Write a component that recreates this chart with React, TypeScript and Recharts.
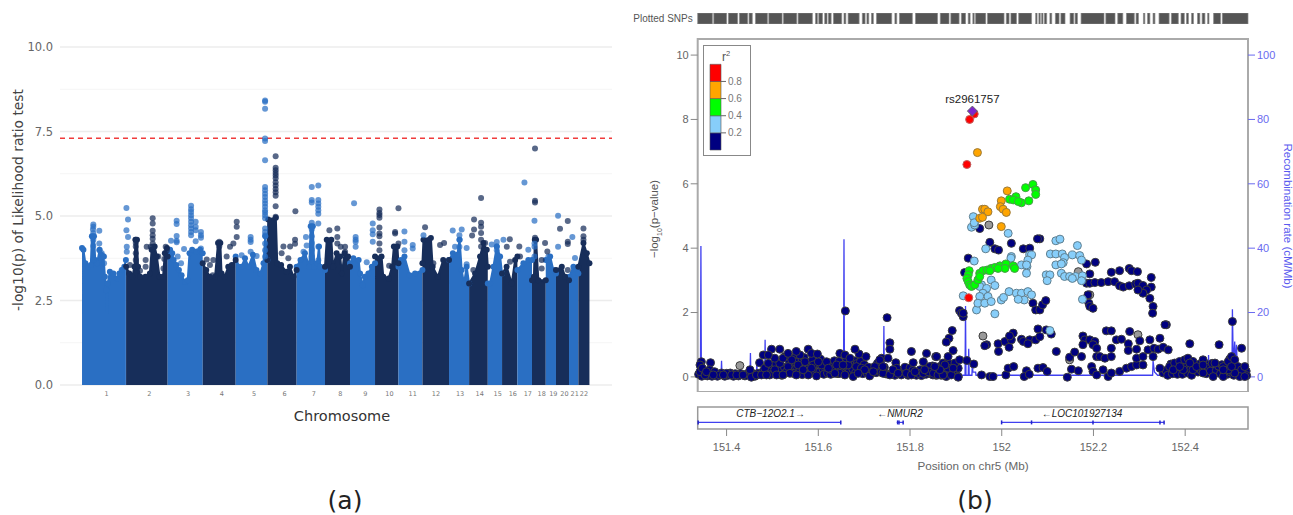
import React from 'react'
import {
  Area,
  Bar,
  BarChart,
  CartesianGrid,
  ComposedChart,
  LabelList,
  Line,
  ReferenceArea,
  ReferenceLine,
  Scatter,
  XAxis,
  YAxis,
} from 'recharts'

// ---------- panel (a): Manhattan plot, x is cumulative genome position in Mb ----------

type Pair = [number, number]

const chromLabels = ['1', '2', '3', '4', '5', '6', '7', '8', '9', '10', '11', '12', '13', '14', '15', '16', '17', '18', '19', '20', '21', '22']
const chromLabelPos = [140, 382, 602, 793, 976, 1150, 1315, 1466, 1608, 1745, 1877, 2009, 2146, 2257, 2359, 2445, 2530, 2609, 2675, 2738, 2796, 2849]
const majorTicks = [0, 2.5, 5, 7.5, 10]
const minorTicks = [1.25, 3.75, 6.25, 8.75]
const significanceLine = 7.3

const chromTops: Pair[][] = [
  [[0, 4.05], [8, 4.0], [19, 3.6], [35, 3.5], [50, 3.55], [56, 4.4], [68, 4.4], [75, 3.7], [85, 3.6], [100, 4.0], [110, 3.85], [122, 3.8], [130, 3.2], [138, 2.8], [142, 2.1], [146, 3.0], [158, 3.35], [178, 3.3], [198, 3.15], [212, 3.3], [228, 3.4], [240, 3.5], [249, 3.7]],
  [[250, 3.5], [268, 3.3], [285, 3.2], [298, 3.5], [303, 4.3], [312, 4.3], [318, 3.5], [330, 3.2], [360, 3.2], [385, 3.3], [395, 4.0], [412, 4.1], [425, 3.8], [440, 3.2], [460, 3.2], [470, 3.9], [482, 4.05], [486, 3.8]],
  [[486, 3.9], [500, 4.0], [512, 3.9], [520, 3.7], [535, 3.55], [550, 3.4], [565, 3.25], [585, 3.05], [600, 3.1], [610, 3.9], [625, 4.0], [650, 3.95], [670, 4.0], [685, 3.9]],
  [[685, 3.6], [705, 3.4], [725, 3.2], [755, 3.2], [772, 4.2], [785, 4.2], [792, 3.3], [810, 3.2], [830, 3.5], [850, 3.55], [872, 3.7]],
  [[872, 3.8], [890, 3.5], [905, 3.5], [925, 3.75], [945, 3.5], [970, 3.85], [990, 3.4], [1012, 3.3], [1030, 3.6], [1040, 4.4], [1052, 3.7]],
  [[1052, 3.7], [1057, 4.9], [1100, 4.95], [1108, 3.6], [1130, 3.55], [1160, 3.35], [1180, 3.5], [1200, 3.2], [1218, 3.4]],
  [[1218, 3.5], [1240, 3.7], [1265, 3.9], [1290, 3.5], [1298, 4.7], [1310, 4.7], [1318, 3.5], [1335, 3.6], [1345, 4.1], [1352, 3.5], [1379, 3.4]],
  [[1379, 3.5], [1389, 4.3], [1415, 4.3], [1425, 3.5], [1445, 3.9], [1465, 3.8], [1475, 3.3], [1490, 3.9], [1510, 3.8], [1521, 3.5]],
  [[1521, 3.6], [1540, 3.75], [1570, 3.7], [1578, 3.3], [1593, 2.95], [1605, 3.2], [1625, 3.3], [1645, 3.5], [1663, 3.6]],
  [[1663, 3.8], [1700, 3.8], [1710, 3.2], [1740, 3.15], [1760, 3.5], [1770, 4.1], [1790, 4.1], [1796, 3.6]],
  [[1796, 3.5], [1810, 3.7], [1830, 3.8], [1860, 3.25], [1890, 3.3], [1932, 3.4]],
  [[1932, 3.6], [1938, 4.3], [1980, 4.35], [1990, 3.5], [2020, 3.2], [2050, 3.7], [2083, 3.7]],
  [[2083, 3.7], [2105, 3.9], [2130, 3.85], [2143, 4.3], [2155, 3.4], [2168, 3.0], [2183, 3.5], [2197, 3.0]],
  [[2197, 3.0], [2231, 3.3], [2259, 3.8], [2278, 4.2], [2297, 4.0], [2303, 3.5]],
  [[2303, 3.0], [2316, 3.0], [2335, 3.5], [2354, 4.1], [2373, 3.8], [2384, 3.3]],
  [[2384, 3.3], [2410, 3.5], [2439, 3.0], [2458, 3.7], [2471, 3.8]],
  [[2471, 3.4], [2505, 3.6], [2533, 3.7], [2554, 3.7]],
  [[2554, 3.1], [2565, 3.2], [2570, 4.3], [2577, 4.3], [2590, 3.1], [2632, 3.1]],
  [[2632, 3.7], [2657, 3.8], [2675, 3.4], [2690, 3.3]],
  [[2690, 3.4], [2723, 3.5], [2742, 3.2], [2764, 3.1]],
  [[2764, 3.2], [2789, 3.5], [2808, 3.4], [2817, 3.3]],
  [[2817, 3.5], [2846, 4.2], [2865, 3.9], [2880, 3.6]],
]

const oddChromHits: Pair[] = [
  [64, 4.75], [64, 4.68], [62, 4.6], [64, 4.5], [62, 4.4], [64, 4.3], [64, 4.11], [64, 3.7], [98, 4.56], [98, 4.19], [98, 3.99], [112, 3.9], [125, 3.8], [125, 3.6], [225, 3.4],
  [252, 5.24], [261, 4.9], [252, 4.58], [261, 4.38], [254, 4.09], [254, 3.94],
  [505, 4.27], [537, 4.86], [537, 4.76], [537, 4.41], [537, 4.27], [537, 4.22], [579, 4.02],
  [619, 5.3], [619, 5.2], [619, 5.12], [619, 5.02], [619, 4.93], [619, 4.83], [619, 4.73], [619, 4.63], [619, 4.53], [619, 4.43],
  [645, 4.83], [645, 4.68], [645, 4.58], [645, 4.25], [675, 4.53], [675, 4.43], [675, 4.36], [675, 4.04], [543, 3.8], [562, 3.6],
  [957, 4.38], [957, 4.3], [957, 4.23], [957, 3.94], [906, 3.84], [991, 3.82],
  [1039, 8.42], [1039, 8.38], [1039, 8.17], [1039, 7.29], [1039, 7.22], [1039, 6.65], [1039, 5.86], [1039, 5.76], [1039, 5.66], [1039, 5.56], [1039, 5.46], [1039, 5.37], [1039, 5.27], [1039, 5.17], [1039, 5.1], [1039, 5.02], [1039, 4.93], [1039, 4.63], [1039, 4.53], [1039, 4.43], [1039, 4.19], [1039, 3.99], [1039, 3.8],
  [1304, 5.86], [1304, 5.47], [1304, 5.4], [1304, 4.8], [1304, 4.6], [1304, 4.4], [1304, 4.2], [1304, 4.0], [1304, 3.8],
  [1341, 5.9], [1341, 5.47], [1341, 5.37], [1341, 5.27], [1341, 5.17], [1341, 5.07], [1341, 4.78], [1341, 4.09], [1341, 3.69], [1271, 4.38], [1275, 4.13], [1257, 3.94],
  [1544, 5.38], [1553, 4.38], [1553, 4.3], [1553, 4.24], [1553, 4.09], [1616, 3.63], [1650, 4.78], [1650, 4.58], [1650, 4.46], [1650, 4.24],
  [1830, 4.54], [1830, 4.24], [1830, 3.99], [1877, 4.14], [1877, 4.04], [1938, 4.43],
  [2104, 4.57], [2155, 4.6], [2142, 4.43], [2142, 4.3], [2142, 4.09], [2117, 4.09], [2183, 4.05], [2183, 3.57],
  [2325, 4.16], [2354, 4.23], [2354, 4.1], [2354, 3.99], [2392, 4.3],
  [2511, 5.99], [2533, 4.0], [2568, 4.86], [2568, 4.19], [2568, 4.09], [2568, 3.8], [2647, 3.8],
  [2702, 5.01], [2702, 4.09], [2783, 4.38], [2798, 3.76],
]

const evenChromHits: Pair[] = [
  [305, 4.3], [305, 4.2], [305, 4.1], [305, 3.9], [305, 3.7], [272, 3.55], [367, 4.09], [390, 4.09],
  [401, 4.93], [401, 4.78], [401, 4.56], [401, 4.43], [401, 4.33], [401, 4.19], [401, 4.09], [361, 3.7], [361, 3.5], [329, 3.38], [433, 3.8], [475, 4.09], [481, 3.98], [462, 3.45], [467, 3.73],
  [708, 3.71], [745, 3.7], [779, 4.24], [779, 4.1], [878, 4.83], [878, 4.68], [878, 4.38], [859, 4.19], [840, 4.09], [726, 3.55], [742, 3.25], [821, 3.8],
  [1099, 6.77], [1099, 6.43], [1099, 6.35], [1099, 6.27], [1099, 6.2], [1099, 6.12], [1099, 6.0], [1099, 5.9], [1099, 5.8], [1099, 5.7], [1099, 5.6], [1099, 5.29], [1099, 4.98],
  [1211, 5.14], [1143, 4.1], [1181, 4.1], [1209, 4.3], [1209, 4.18], [1133, 3.9], [1171, 3.75],
  [1404, 4.58], [1449, 4.63], [1449, 4.38], [1449, 4.19], [1468, 4.09], [1493, 4.09], [1493, 3.94],
  [1688, 5.19], [1688, 5.09], [1688, 5.03], [1688, 4.95], [1688, 4.66], [1688, 4.48], [1688, 4.4], [1688, 4.19], [1688, 3.99], [1743, 3.53], [1777, 4.53], [1777, 4.48], [1796, 5.23], [1796, 4.19],
  [1947, 4.67], [1966, 4.3], [2032, 4.14], [2055, 4.2], [1994, 3.6],
  [2225, 4.9], [2225, 4.6], [2214, 4.42], [2265, 5.53], [2265, 4.8], [2265, 4.68], [2265, 4.5], [2265, 4.3], [2265, 4.1], [2288, 4.2], [2221, 3.4],
  [2428, 4.31], [2411, 4.09], [2482, 4.1], [2429, 3.65], [2486, 3.8],
  [2571, 7.0], [2571, 5.45], [2571, 5.4], [2571, 4.36], [2628, 4.2], [2609, 3.7], [2609, 3.45], [2641, 3.95],
  [2713, 4.62], [2757, 4.85], [2757, 4.24], [2757, 4.17], [2757, 3.4], [2846, 4.63], [2846, 4.4], [2846, 4.3],
]

// ---------- panel (b): LocusZoom plot, x is position on chr5 in Mb ----------

const leadSnp = [{ pos: 151.936, v: 8.26, name: 'rs2961757' }]

const snpRed: Pair[] = [[151.924, 6.6], [151.928, 2.46], [151.94, 8.17], [151.93, 8.0]]

const snpOrange: Pair[] = [
  [151.947, 6.97], [151.958, 5.21], [151.963, 5.21], [151.97, 5.13], [151.952, 4.93], [151.958, 4.96],
  [152.012, 5.78], [151.999, 5.47], [151.997, 5.29], [152.003, 5.21], [152.01, 5.11], [151.999, 4.67],
]

const snpGreen: Pair[] = [
  [152.052, 5.88], [152.068, 5.98], [152.074, 5.81], [152.074, 5.67], [152.059, 5.47], [152.043, 5.41], [152.031, 5.6], [152.017, 5.52], [152.025, 5.5], [152.036, 5.45],
  [151.929, 3.3], [151.927, 3.17], [151.924, 3.06], [151.927, 2.96], [151.93, 2.86], [151.934, 2.81], [151.941, 2.86], [151.948, 3.01], [151.952, 3.22], [151.959, 3.3], [151.968, 3.32],
  [151.977, 3.37], [151.985, 3.4], [151.996, 3.45], [152.009, 3.51], [152.025, 3.45], [152.028, 3.37], [152.007, 3.37], [151.992, 3.37], [151.974, 3.3], [151.952, 3.12],
]

const snpLightBlue: Pair[] = [
  [151.938, 4.98], [151.934, 4.65], [151.941, 4.72], [151.94, 4.79], [152.014, 4.46], [151.965, 3.98], [151.94, 3.6], [152.021, 3.74], [152.02, 3.69], [152.061, 3.79], [152.065, 3.79], [152.057, 3.63], [152.055, 3.43], [152.054, 3.22], [152.043, 3.48], [152.054, 3.48],
  [152.118, 4.23], [152.127, 4.28], [152.165, 4.08], [152.106, 3.82], [152.118, 3.82], [152.132, 3.82], [152.137, 3.71], [152.154, 3.79], [152.17, 3.77], [152.174, 3.63], [152.134, 3.55], [152.118, 3.48], [152.13, 3.51],
  [152.097, 3.17], [152.105, 3.17], [152.099, 2.99], [152.13, 3.22], [152.137, 3.12], [152.148, 3.12], [152.161, 3.12], [152.154, 3.06], [152.176, 3.14], [152.174, 2.99], [152.176, 2.41],
  [151.916, 2.52], [151.956, 2.86], [151.952, 2.81], [151.977, 3.01], [151.985, 2.84], [151.967, 2.75], [151.959, 2.6], [151.97, 2.5], [151.952, 2.5], [151.945, 2.08], [151.948, 2.29], [151.963, 2.29], [151.977, 2.34], [151.999, 2.39], [152.004, 2.47],
  [152.016, 2.65], [152.032, 2.6], [152.043, 2.6], [152.057, 2.65], [152.065, 2.55], [152.049, 2.39], [152.036, 2.41], [151.985, 1.96], [152.105, 1.44],
]

const snpNavyHigh: Pair[] = [
  [151.952, 4.61], [151.974, 4.18], [151.985, 3.98], [151.993, 3.94], [152.021, 4.15], [152.047, 3.98], [152.061, 4.0], [152.083, 4.29], [152.078, 4.29], [151.927, 3.69], [151.919, 3.24],
  [152.185, 3.51], [152.204, 3.56], [152.192, 3.2], [152.239, 3.25], [152.257, 3.3], [152.278, 3.37], [152.283, 3.3], [152.296, 3.27], [152.326, 3.09], [152.326, 2.79],
  [152.185, 2.91], [152.192, 2.91], [152.203, 2.93], [152.217, 2.93], [152.232, 2.96], [152.246, 2.96], [152.257, 2.83], [152.265, 2.79], [152.278, 2.83], [152.292, 2.89], [152.297, 2.91], [152.308, 2.84], [152.316, 2.7], [152.323, 2.44], [152.308, 2.6], [152.297, 2.7],
  [152.33, 2.19], [152.329, 1.98], [152.188, 2.55], [152.19, 2.29], [152.192, 2.19], [152.199, 2.13],
  [152.068, 2.29], [152.074, 2.08], [152.083, 2.08], [152.089, 2.24], [152.096, 2.37],
  [151.908, 2.06], [151.912, 1.98], [151.916, 1.87], [151.916, 1.98], [151.892, 1.44], [151.885, 1.2], [151.879, 1.08], [151.659, 2.05], [151.75, 1.84],
]

const snpNavyMid: Pair[] = [
  [151.967, 1.0], [151.963, 0.97], [151.992, 1.03], [152.007, 1.1], [152.021, 1.15], [152.025, 1.36], [152.017, 1.27], [152.016, 0.92], [151.993, 0.79], [152.043, 1.17], [152.047, 1.1], [152.061, 1.15], [152.057, 1.03], [152.074, 1.15], [152.083, 1.25], [152.079, 1.49], [152.097, 1.46], [152.108, 1.33],
  [152.119, 0.79], [152.148, 0.61], [152.159, 0.77], [152.174, 0.63], [152.177, 1.27], [152.181, 1.15], [152.177, 1.0], [152.192, 1.15], [152.203, 1.1], [152.199, 1.0], [152.207, 0.89], [152.228, 1.43], [152.239, 1.43], [152.279, 1.41], [152.239, 0.89], [152.25, 1.15], [152.261, 1.17], [152.276, 1.03], [152.276, 0.82],
  [152.294, 0.86], [152.301, 1.12], [152.323, 1.15], [152.319, 0.84], [152.345, 1.2], [152.332, 0.89], [152.341, 0.86], [152.359, 1.62], [152.356, 1.62], [152.352, 0.92], [152.363, 0.84], [152.41, 1.03], [152.474, 1.0], [152.523, 0.89], [152.503, 1.72],
  [151.756, 1.06], [151.756, 0.86], [151.68, 0.86], [151.803, 0.79], [151.836, 0.73], [151.856, 0.63], [151.498, 0.86], [151.516, 0.86], [151.578, 0.86], [151.585, 0.73], [151.598, 0.71], [151.552, 0.79], [151.534, 0.73], [151.491, 0.68],
  [151.894, 0.82], [151.883, 0.63], [151.858, 0.63], [151.908, 0.53], [151.924, 0.51], [151.939, 0.4],
]

const snpNavyLow: Pair[] = [
  [151.956, 0.06], [151.974, 0.01], [151.981, 0.01], [152.009, 0.06], [152.014, 0.27], [152.026, 0.32], [152.054, 0.19], [152.049, 0.01], [152.06, 0.08], [152.079, 0.27], [152.09, 0.29], [152.099, 0.17], [152.143, -0.01], [152.152, 0.24], [152.167, 0.19],
  [152.196, 0.32], [152.199, 0.17], [152.207, 0.06], [152.221, 0.22], [152.232, 0.01], [152.239, 0.12], [152.257, 0.17], [152.272, 0.27], [152.283, 0.32], [152.294, 0.37], [152.308, 0.37], [152.207, 0.63], [152.214, 0.63], [152.225, 0.58], [152.239, 0.63], [152.294, 0.58], [152.308, 0.63], [152.33, 0.63],
  [152.345, 0.27], [152.366, 0.32], [152.377, 0.43], [152.388, 0.48], [152.399, 0.53], [152.406, 0.58], [152.417, 0.48], [152.439, 0.53], [152.461, 0.01], [152.483, 0.01], [152.439, 0.12], [152.417, 0.22], [152.396, 0.22], [152.374, 0.22], [152.388, 0.32], [152.41, 0.43], [152.425, 0.32], [152.439, 0.37], [152.465, 0.43], [152.483, 0.32],
  [152.494, 0.48], [152.501, 0.63], [152.508, 0.53], [152.515, 0.32], [152.523, 0.22], [152.53, 0.32], [152.519, 0.01], [152.53, 0.01], [152.508, 0.12], [152.494, 0.22], [152.501, 0.32], [152.483, 0.22],
  [151.843, 0.32], [151.854, 0.22], [151.865, 0.32], [151.879, 0.22], [151.894, 0.12], [151.905, 0.01], [151.85, 0.06], [151.865, 0.12], [151.879, 0.01], [151.89, 0.06], [151.905, 0.27], [151.887, 0.32], [151.872, 0.43], [151.883, 0.43], [151.898, 0.43],
  [151.472, 0.44], [151.365, 0.44], [151.345, 0.47], [151.647, 0.73], [151.658, 0.68], [151.689, 0.71], [151.704, 0.63], [151.738, 0.58], [151.752, 0.58], [151.769, 0.44], [151.807, 0.44], [151.829, 0.47],
  [151.342, 0.16], [151.353, 0.06], [151.363, 0.22], [151.374, 0.16], [151.385, 0.06], [151.4, 0.11], [151.411, 0.06], [151.422, 0.06], [151.436, 0.06], [151.451, 0.22], [151.454, -0.01], [151.465, 0.06], [151.476, 0.06], [151.483, 0.27], [151.491, 0.42], [151.494, 0.06], [151.505, 0.22], [151.516, 0.42], [151.527, 0.63], [151.534, 0.32],
  [151.545, 0.11], [151.549, 0.47], [151.56, 0.68], [151.571, 0.47], [151.578, 0.06], [151.589, 0.37], [151.596, 0.03], [151.607, 0.37], [151.618, 0.47], [151.629, 0.22], [151.64, 0.37], [151.647, 0.11], [151.658, 0.06], [151.665, 0.37], [151.676, 0.01], [151.683, 0.32], [151.694, 0.27], [151.701, 0.22], [151.712, 0.03], [151.723, 0.32],
  [151.734, 0.53], [151.741, 0.11], [151.756, 0.06], [151.771, 0.27], [151.781, 0.06], [151.792, 0.11], [151.803, 0.06], [151.818, 0.11], [151.829, 0.11], [151.84, 0.16], [151.851, 0.11], [151.861, 0.06], [151.872, 0.06], [151.883, 0.27], [151.894, 0.27], [151.905, -0.01], [151.876, 0.37], [151.865, 0.22], [151.854, 0.32],
  [151.48, 0.68], [151.505, 0.58], [151.523, 0.58], [151.542, 0.53], [151.538, 0.11], [151.556, 0.37], [151.567, 0.22], [151.585, 0.27], [151.6, 0.47], [151.622, 0.27], [151.636, 0.11], [151.669, 0.58], [151.654, 0.37], [151.687, 0.11], [151.72, 0.16], [151.741, 0.32], [151.763, 0.22], [151.774, 0.11], [151.811, 0.16], [151.832, 0.22],
  [151.342, 0.37], [151.347, 0.27], [151.356, 0.16], [151.371, 0.06], [151.393, 0.06], [151.487, 0.06], [151.509, 0.06], [151.523, 0.06], [151.552, 0.06],
]

// the solid charcoal band along the bottom of the plot
const snpNavyBand: Pair[] = [
  [151.339, 0.08], [151.346, 0.02], [151.35, 0.12], [151.358, 0.03], [151.361, 0.1], [151.368, 0.02], [151.376, 0.07], [151.38, 0.02], [151.389, 0.12], [151.396, 0.02], [151.404, 0.05], [151.408, 0.12], [151.415, 0.02], [151.419, 0.1], [151.426, 0.03], [151.431, 0.1], [151.44, 0.03], [151.445, 0.1],
  [151.458, 0.1], [151.462, 0.02], [151.469, 0.11], [151.479, 0.16], [151.486, 0.14], [151.49, 0.25], [151.497, 0.2], [151.5, 0.36], [151.502, 0.1], [151.507, 0.41], [151.512, 0.15], [151.518, 0.25], [151.52, 0.05], [151.526, 0.3], [151.53, 0.15], [151.536, 0.52], [151.54, 0.3], [151.547, 0.22], [151.55, 0.62], [151.553, 0.3], [151.558, 0.15], [151.563, 0.48],
  [151.565, 0.07], [151.569, 0.6], [151.573, 0.2], [151.576, 0.33], [151.581, 0.45], [151.583, 0.12], [151.587, 0.52], [151.591, 0.15], [151.593, 0.38], [151.603, 0.15], [151.605, 0.55], [151.61, 0.25], [151.612, 0.08], [151.615, 0.35], [151.62, 0.12], [151.625, 0.42], [151.627, 0.08], [151.632, 0.33], [151.635, 0.5], [151.638, 0.22], [151.643, 0.1], [151.645, 0.48],
  [151.65, 0.25], [151.66, 0.33], [151.662, 0.55], [151.667, 0.15], [151.672, 0.42], [151.675, 0.25], [151.678, 0.5], [151.681, 0.12], [151.685, 0.42], [151.69, 0.18], [151.692, 0.48], [151.697, 0.1], [151.7, 0.38], [151.706, 0.12], [151.709, 0.3], [151.716, 0.14], [151.726, 0.13], [151.729, 0.42], [151.732, 0.2], [151.737, 0.14], [151.744, 0.3], [151.748, 0.09],
  [151.76, 0.12], [151.767, 0.05], [151.778, 0.2], [151.785, 0.1], [151.789, 0.3], [151.796, 0.05], [151.8, 0.28], [151.806, 0.2], [151.814, 0.05], [151.822, 0.22], [151.825, 0.04], [151.835, 0.08], [151.838, 0.3], [151.846, 0.1], [151.849, 0.34], [151.857, 0.05], [151.863, 0.12], [151.868, 0.05], [151.874, 0.2], [151.882, 0.1], [151.889, 0.18], [151.901, 0.2],
  [152.352, 0.12], [152.358, 0.2], [152.362, 0.05], [152.369, 0.4], [152.372, 0.1], [152.38, 0.26], [152.383, 0.08], [152.391, 0.38], [152.394, 0.08], [152.402, 0.3], [152.405, 0.12], [152.412, 0.25], [152.414, 0.05], [152.42, 0.34], [152.428, 0.15], [152.432, 0.4], [152.435, 0.2], [152.443, 0.42], [152.446, 0.1], [152.45, 0.3], [152.455, 0.18], [152.459, 0.42], [152.468, 0.2], [152.473, 0.33],
  [152.477, 0.1], [152.48, 0.38], [152.486, 0.12], [152.49, 0.38], [152.492, 0.08], [152.497, 0.55], [152.499, 0.15], [152.504, 0.4], [152.506, 0.05], [152.511, 0.3], [152.513, 0.14], [152.517, 0.08], [152.521, 0.18], [152.526, 0.04], [152.528, 0.14], [152.533, 0.18], [152.534, 0.04],
]

const snpGrey: Pair[] = [[151.972, 4.72], [151.959, 1.27], [152.192, 2.55], [152.297, 1.31], [152.148, 0.53], [152.363, 0.09], [152.167, 3.27], [151.429, 0.35]]

const recombPos = [151.337, 151.343, 151.344, 151.345, 151.388, 151.389, 151.39, 151.451, 151.452, 151.453, 151.465, 151.466, 151.467, 151.483, 151.484, 151.485, 151.655, 151.656, 151.657, 151.742, 151.743, 151.744, 151.92, 151.921, 151.922, 151.927, 151.928, 151.929, 151.935, 151.936, 151.937, 151.943, 151.944, 152.329, 152.33, 152.333, 152.34, 152.45, 152.451, 152.452, 152.502, 152.503, 152.505, 152.508, 152.51, 152.512, 152.514, 152.537]
const recombRate = [0.5, 0.5, 40.7, 0.5, 0.5, 5, 0.5, 0.5, 7.4, 0.5, 0.5, 5, 0.5, 0.5, 11.5, 0.5, 0.5, 42.8, 0.5, 0.5, 15.8, 0.5, 0.5, 22, 0.5, 0.5, 8.7, 0.5, 0.5, 5, 1.5, 1.5, 0.5, 0.5, 5, 1.5, 0.5, 0.5, 6.8, 0.5, 0.5, 21, 3, 11, 3, 10, 0.5, 0.5]

const snpBlocks: Pair[] = [
  [151.337, 151.369], [151.372, 151.4], [151.404, 151.424], [151.428, 151.446], [151.449, 151.456], [151.463, 151.489], [151.492, 151.521], [151.524, 151.553], [151.556, 151.587], [151.594, 151.598], [151.601, 151.609], [151.614, 151.619], [151.622, 151.628], [151.633, 151.651], [151.656, 151.66], [151.665, 151.689], [151.696, 151.702], [151.706, 151.71], [151.716, 151.72], [151.727, 151.76], [151.767, 151.771], [151.777, 151.805], [151.812, 151.86], [151.866, 151.885], [151.889, 151.907], [151.912, 151.921], [151.927, 151.931], [151.937, 151.94],
  [151.943, 151.965], [151.969, 152.005], [152.01, 152.016], [152.02, 152.032], [152.037, 152.065], [152.074, 152.077], [152.081, 152.084], [152.087, 152.09], [152.093, 152.098], [152.105, 152.109], [152.117, 152.125], [152.129, 152.138], [152.149, 152.157], [152.16, 152.165], [152.173, 152.223], [152.227, 152.247], [152.253, 152.264], [152.272, 152.289], [152.293, 152.298], [152.309, 152.312], [152.318, 152.323], [152.33, 152.334], [152.343, 152.365], [152.37, 152.385], [152.391, 152.398], [152.403, 152.407], [152.414, 152.418], [152.427, 152.432], [152.437, 152.443], [152.449, 152.452], [152.462, 152.477], [152.481, 152.537],
]

const positionTicks = [151.4, 151.6, 151.8, 152, 152.2, 152.4]
const pvalueTicks = [0, 2, 4, 6, 8, 10]
const rateTicks = [0, 20, 40, 60, 80, 100]

const geneSpans: Pair[] = [[151.338, 151.649], [151.771, 151.785], [151.9997, 152.354]]
const geneExons = [151.338, 151.649, 151.773, 151.776, 151.785, 151.9997, 152.065, 152.199, 152.345, 152.354]
const geneNames = [
  { pos: 151.496, v: 0.72, name: 'CTB\u221212O2.1\u2192' },
  { pos: 151.778, v: 0.72, name: '\u2190NMUR2' },
  { pos: 152.175, v: 0.72, name: '\u2190LOC101927134' },
]

const r2Bands = [{ band: 'r2', b1: 0.2, b2: 0.2, b3: 0.2, b4: 0.2, b5: 0.2 }]
const r2Colors = ['#000080', '#87cefa', '#00ff00', '#ffa500', '#ff0000']
const r2Ticks = [0.2, 0.4, 0.6, 0.8]

// ---------- helpers ----------

const toPoints = (pairs: Pair[]) => pairs.map(([pos, v]) => ({ pos, v }))

const dot = (r: number, fill: string, stroke = 'none', opacity = 1) => (p: any) => (
  <circle cx={p.cx} cy={p.cy} r={r} fill={fill} stroke={stroke} strokeWidth={stroke === 'none' ? 0 : 1} opacity={opacity} />
)

const exonMark = (p: any) => <line x1={p.cx} x2={p.cx} y1={p.cy - 2} y2={p.cy + 2} stroke="#2222cc" strokeWidth={1.5} />

const LIGHT = '#2a6fc3'
const DARK = '#172e5a'
const DEJAVU = '"DejaVu Sans", sans-serif'
const ARIAL = '"Liberation Sans", sans-serif'
const POS_DOMAIN: [number, number] = [151.337, 152.537]

function Caption({ x, y, size, color, font, rotate = 0, children }: any) {
  return (
    <div
      style={{
        position: 'absolute',
        left: x,
        top: y,
        fontFamily: font,
        fontSize: size,
        color,
        whiteSpace: 'nowrap',
        lineHeight: 1,
        transform: `translate(-50%, -50%) rotate(${rotate}deg)`,
      }}
    >
      {children}
    </div>
  )
}

function ManhattanPanel() {
  // crest dots give the top edge of each chromosome the bumpy look of overplotted points
  const oddCrest = chromTops.filter((_, i) => i % 2 === 0).flat().filter(([, v]) => v > 2.5)
  const evenCrest = chromTops.filter((_, i) => i % 2 === 1).flat().filter(([, v]) => v > 2.5)
  return (
    <div style={{ position: 'absolute', left: 0, top: 0 }}>
      <ComposedChart width={640} height={515} margin={{ top: 47, right: 28, bottom: 100, left: 0 }}>
        <CartesianGrid horizontal vertical={false} horizontalValues={minorTicks} stroke="#f5f5f5" />
        <CartesianGrid horizontal vertical={false} horizontalValues={majorTicks} stroke="#ececec" strokeWidth={1.4} />
        <XAxis
          dataKey="pos"
          type="number"
          domain={[-125, 3008]}
          ticks={chromLabelPos}
          interval={0}
          height={30}
          axisLine={false}
          tickLine={false}
          tickMargin={0}
          tick={{ fontSize: 6.5, fill: '#777', fontFamily: DEJAVU }}
          tickFormatter={(_v: number, i: number) => chromLabels[i]}
        />
        <YAxis
          width={60}
          domain={[0, 10]}
          ticks={majorTicks}
          axisLine={false}
          tickLine={false}
          tick={{ fontSize: 11.5, fill: '#666', fontFamily: DEJAVU, dx: 1 }}
          tickFormatter={(v: number) => v.toFixed(1)}
        />
        {chromTops.map((top, i) => (
          <Area
            key={chromLabels[i]}
            data={toPoints(top)}
            dataKey="v"
            type="linear"
            fill={i % 2 === 0 ? LIGHT : DARK}
            fillOpacity={1}
            stroke={i % 2 === 0 ? LIGHT : DARK}
            strokeWidth={2}
            dot={false}
            isAnimationActive={false}
          />
        ))}
        <Scatter data={toPoints(oddCrest)} dataKey="v" shape={dot(3, LIGHT)} isAnimationActive={false} />
        <Scatter data={toPoints(evenCrest)} dataKey="v" shape={dot(3, DARK)} isAnimationActive={false} />
        <Scatter data={toPoints(oddChromHits)} dataKey="v" shape={dot(3, LIGHT, 'none', 0.72)} isAnimationActive={false} />
        <Scatter data={toPoints(evenChromHits)} dataKey="v" shape={dot(3, DARK, 'none', 0.72)} isAnimationActive={false} />
        <ReferenceLine y={significanceLine} stroke="#f03c3c" strokeWidth={1.4} strokeDasharray="5 4" />
      </ComposedChart>
    </div>
  )
}

function LocusPanel() {
  const snpStroke = '#3c3c3c'
  return (
    <>
      <div style={{ position: 'absolute', left: 640, top: 13 }}>
        <ComposedChart width={653} height={11} margin={{ top: 0, right: 45, bottom: 0, left: 57.7 }}>
          <XAxis dataKey="pos" type="number" domain={POS_DOMAIN} allowDataOverflow hide />
          <YAxis domain={[0, 1]} allowDataOverflow hide />
          {snpBlocks.map(([a, b]) => (
            <ReferenceArea key={a} x1={a} x2={b} y1={0} y2={1} fill="#555" fillOpacity={1} stroke="#888" strokeWidth={0.7} />
          ))}
        </ComposedChart>
      </div>

      <div style={{ position: 'absolute', left: 640, top: 0 }}>
        <ComposedChart width={653} height={392} margin={{ top: 39, right: 0, bottom: 0, left: 0 }}>
          <XAxis dataKey="pos" type="number" domain={POS_DOMAIN} height={0} tick={false} axisLine={false} tickLine={false} />
          <YAxis
            width={57.7}
            domain={[-0.47, 10.5]}
            ticks={pvalueTicks}
            axisLine={false}
            tickSize={7}
            tickLine={{ stroke: '#888' }}
            tick={{ fontSize: 11, fill: '#666', fontFamily: ARIAL }}
          />
          <YAxis
            yAxisId="rate"
            orientation="right"
            width={45}
            domain={[-4.7, 105]}
            ticks={rateTicks}
            axisLine={false}
            tickSize={7}
            tickLine={{ stroke: '#6a6af0' }}
            tick={{ fontSize: 11, fill: '#6a6af0', fontFamily: ARIAL }}
          />
          <ReferenceArea x1={POS_DOMAIN[0]} x2={POS_DOMAIN[1]} y1={-0.47} y2={10.5} fill="none" stroke="#aaa" strokeWidth={2} />
          <Line
            yAxisId="rate"
            data={recombPos.map((pos, i) => ({ pos, rate: recombRate[i] }))}
            dataKey="rate"
            type="linear"
            stroke="#4040f0"
            strokeWidth={1.3}
            dot={false}
            isAnimationActive={false}
          />
          <Scatter data={toPoints(snpGrey)} dataKey="v" shape={dot(4, '#999', snpStroke)} isAnimationActive={false} />
          <Scatter data={toPoints(snpNavyBand)} dataKey="v" shape={dot(4, '#000080', snpStroke)} isAnimationActive={false} />
          <Scatter data={toPoints(snpNavyLow)} dataKey="v" shape={dot(4, '#000080', snpStroke)} isAnimationActive={false} />
          <Scatter data={toPoints(snpNavyMid)} dataKey="v" shape={dot(4, '#000080', snpStroke)} isAnimationActive={false} />
          <Scatter data={toPoints(snpNavyHigh)} dataKey="v" shape={dot(4, '#000080', snpStroke)} isAnimationActive={false} />
          <Scatter data={toPoints(snpLightBlue)} dataKey="v" shape={dot(4, '#87cefa', '#5f7f8f')} isAnimationActive={false} />
          <Scatter data={toPoints(snpGreen)} dataKey="v" shape={dot(4, '#00ff00', '#4a9a4a')} isAnimationActive={false} />
          <Scatter data={toPoints(snpOrange)} dataKey="v" shape={dot(4, '#ffa500', '#9a7a3a')} isAnimationActive={false} />
          <Scatter data={toPoints(snpRed)} dataKey="v" shape={dot(4, '#ff0000', '#c06060')} isAnimationActive={false} />
          <Scatter
            data={leadSnp}
            dataKey="v"
            shape={(p: any) => (
              <polygon
                points={`${p.cx},${p.cy - 5} ${p.cx + 5},${p.cy} ${p.cx},${p.cy + 5} ${p.cx - 5},${p.cy}`}
                fill="#7d26cd"
                stroke="#666"
              />
            )}
            isAnimationActive={false}
          >
            <LabelList dataKey="name" position="top" offset={4} style={{ fontSize: 11.5, fill: '#222', fontFamily: ARIAL }} />
          </Scatter>
        </ComposedChart>
      </div>

      <div style={{ position: 'absolute', left: 640, top: 400 }}>
        <ComposedChart width={653} height={70} margin={{ top: 7, right: 45, bottom: 0, left: 57.7 }}>
          <XAxis
            dataKey="pos"
            type="number"
            domain={POS_DOMAIN}
            ticks={positionTicks}
            interval={0}
            height={41}
            axisLine={false}
            tickSize={7}
            tickMargin={7}
            tickLine={{ stroke: '#888' }}
            tick={{ fontSize: 11, fill: '#666', fontFamily: ARIAL }}
          />
          <YAxis domain={[0, 1]} hide />
          <ReferenceArea x1={POS_DOMAIN[0]} x2={POS_DOMAIN[1]} y1={0} y2={1} fill="none" stroke="#999" strokeWidth={1.5} />
          {geneSpans.map(([a, b]) => (
            <Line
              key={a}
              data={[{ pos: a, v: 0.3 }, { pos: b, v: 0.3 }]}
              dataKey="v"
              stroke="#4040f0"
              strokeWidth={1.2}
              dot={false}
              isAnimationActive={false}
            />
          ))}
          <Scatter data={geneExons.map((pos) => ({ pos, v: 0.3 }))} dataKey="v" shape={exonMark} isAnimationActive={false} />
          <Scatter data={geneNames} dataKey="v" shape={() => <g />} isAnimationActive={false}>
            <LabelList
              dataKey="name"
              position="center"
              style={{ fontSize: 10, fontStyle: 'italic', fill: '#222', fontFamily: ARIAL }}
            />
          </Scatter>
        </ComposedChart>
      </div>

      <div style={{ position: 'absolute', left: 703, top: 45, width: 46, height: 109, border: '1px solid #888', background: '#fff', overflow: 'hidden' }}>
        <BarChart width={46} height={109} data={r2Bands} margin={{ top: 18.3, right: 0, bottom: 5, left: 6 }} barCategoryGap={0}>
          <XAxis dataKey="band" hide />
          <YAxis
            orientation="right"
            width={29}
            domain={[0, 1]}
            ticks={r2Ticks}
            axisLine={false}
            tickSize={5}
            tickLine={{ stroke: '#666' }}
            tick={{ fontSize: 10, fill: '#777', fontFamily: ARIAL }}
          />
          {r2Colors.map((color, i) => (
            <Bar key={color} dataKey={`b${i + 1}`} stackId="r2" fill={color} stroke="#555" strokeWidth={0.6} isAnimationActive={false} />
          ))}
        </BarChart>
      </div>
    </>
  )
}

export default function App() {
  return (
    <div style={{ position: 'absolute', left: 0, top: 0, width: 1293, height: 515, background: '#fff', overflow: 'hidden' }}>
      <ManhattanPanel />
      <LocusPanel />
      <Caption x={19} y={199.5} size={13.8} color="#444" font={DEJAVU} rotate={-90}>-log10(p) of Likelihood ratio test</Caption>
      <Caption x={342} y={416} size={14.5} color="#333" font={DEJAVU}>Chromosome</Caption>
      <Caption x={345} y={499.5} size={25} color="#222" font={DEJAVU}>(a)</Caption>
      <Caption x={975} y={499.5} size={25} color="#222" font={DEJAVU}>(b)</Caption>
      <Caption x={663} y={18.5} size={10} color="#555" font={ARIAL}>Plotted SNPs</Caption>
      <Caption x={656} y={219} size={11.5} color="#555" font={ARIAL} rotate={-90}>{'\u2212log'}<sub style={{ fontSize: 7 }}>10</sub>{'(p\u2212value)'}</Caption>
      <Caption x={1287} y={215.5} size={11.5} color="#5a5aef" font={ARIAL} rotate={90}>Recombination rate (cM/Mb)</Caption>
      <Caption x={973} y={466} size={11.7} color="#666" font={ARIAL}>Position on chr5 (Mb)</Caption>
      <Caption x={726} y={56} size={12} color="#555" font={ARIAL}>r<sup style={{ fontSize: 7.5 }}>2</sup></Caption>
    </div>
  )
}
